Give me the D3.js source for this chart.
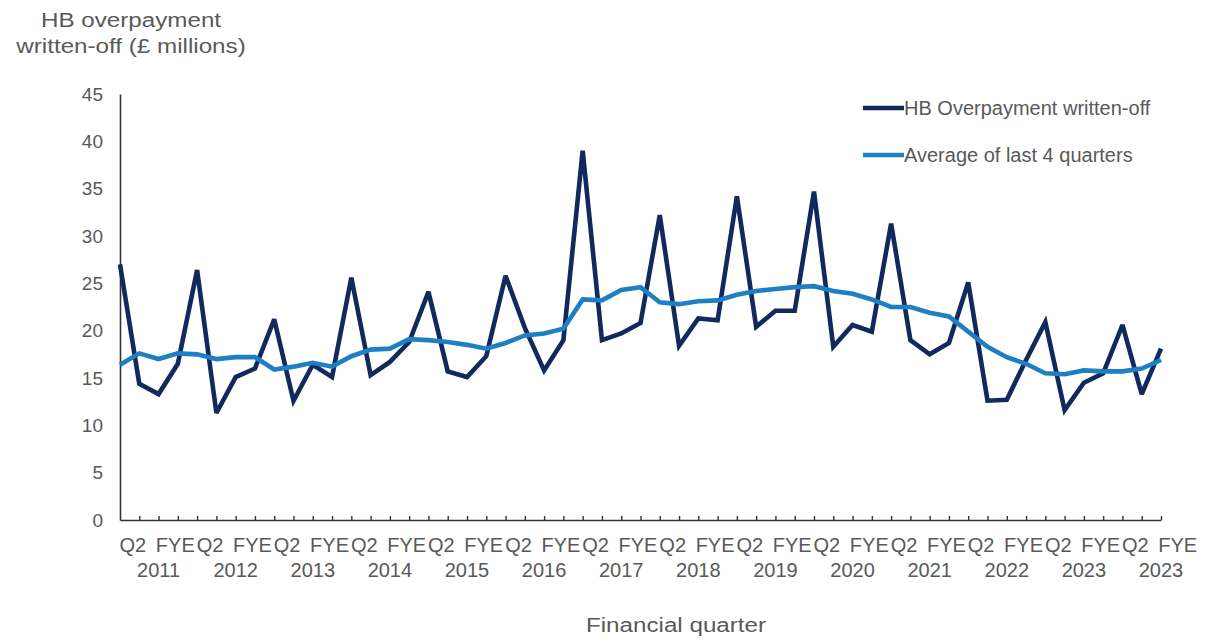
<!DOCTYPE html>
<html>
<head>
<meta charset="utf-8">
<script src="https://cdn.jsdelivr.net/npm/d3@7"></script>
<style>
  html, body { margin: 0; padding: 0; background: #ffffff; }
  svg { display: block; }
  text { font-family: "Liberation Sans", Arial, sans-serif; fill: #595959; }
</style>
</head>
<body>
<svg id="chart" width="1216" height="643"></svg>
<script>
// ---- Data ----
const seriesNames = ["HB Overpayment written-off", "Average of last 4 quarters"];
const writtenOff = [27.0,14.4,13.3,16.5,26.4,11.3,15.1,16.0,21.2,12.6,
                    16.4,15.1,25.6,15.3,16.7,18.8,24.1,15.7,15.1,17.3,
                    25.8,20.3,15.8,19.0,39.0,19.0,19.7,20.8,32.2,18.4,
                    21.3,21.1,34.2,20.4,22.1,22.1,34.7,18.3,20.6,19.9,
                    31.3,19.0,17.5,18.7,25.1,12.6,12.7,16.9,20.9,11.6,
                    14.5,15.5,20.6,13.3,18.1];
const avgLast4 = [16.4,17.6,17.0,17.6,17.5,17.0,17.2,17.2,15.9,16.2,
                  16.6,16.2,17.3,18.0,18.1,19.1,19.0,18.8,18.5,18.1,
                  18.7,19.5,19.7,20.2,23.3,23.2,24.3,24.6,23.0,22.8,
                  23.1,23.2,23.8,24.2,24.4,24.6,24.7,24.2,23.9,23.3,
                  22.5,22.5,21.9,21.5,19.9,18.3,17.2,16.5,15.5,15.4,
                  15.8,15.7,15.7,16.0,16.9];
const yearLabels = ["2011","2012","2013","2014","2015","2016","2017","2018","2019","2020","2021","2022","2023","2023"];
const periodLabels = ["Q2","FYE"];
const yTicks = [0,5,10,15,20,25,30,35,40,45];
const yTitle = ["HB overpayment", "written-off (£ millions)"];
const xTitle = "Financial quarter";

// ---- Layout ----
const colors = ["#11295d", "#1f7fc4"];
const svg = d3.select("#chart");
const n = writtenOff.length;
const x = d3.scaleLinear().domain([0, n - 1]).range([120, 1161]);
const y = d3.scaleLinear().domain([0, 45]).range([520, 94]);

// Y axis
const yAxis = svg.append("g").attr("transform", `translate(${x(0)},0)`)
  .call(d3.axisLeft(y).tickValues(yTicks).tickSize(0).tickPadding(17));
yAxis.select(".domain").attr("stroke", "#333333").attr("stroke-width", 1.6);
yAxis.selectAll("text").attr("font-size", 19).attr("fill", "#595959")
  .style("font-family", "'Liberation Sans', Arial, sans-serif");

// X axis
const xAxis = svg.append("g").attr("transform", `translate(0,${y(0)})`)
  .call(d3.axisBottom(x).tickValues(d3.range(1, n)).tickSize(-4).tickSizeOuter(0).tickFormat(""));
xAxis.select(".domain").attr("stroke", "#333333").attr("stroke-width", 1.6);
xAxis.selectAll(".tick line").attr("stroke", "#333333").attr("stroke-width", 1.4);

// X labels (Q2 / FYE and year)
const labelGroup = svg.append("g").attr("font-size", 20);
yearLabels.forEach((yr, k) => {
  const base = 4 * k + 2;
  labelGroup.append("text").attr("x", x(base - 1.33)).attr("y", 552)
    .attr("text-anchor", "middle").text(periodLabels[0]);
  labelGroup.append("text").attr("x", x(base + 0.87)).attr("y", 552)
    .attr("text-anchor", "middle").text(periodLabels[1]);
  labelGroup.append("text").attr("x", x(base)).attr("y", 577)
    .attr("text-anchor", "middle").text(yr);
});

// Lines
const line = d3.line().x((d, i) => x(i)).y(d => y(d));
[writtenOff, avgLast4].forEach((s, si) => {
  svg.append("path").datum(s)
    .attr("fill", "none")
    .attr("stroke", colors[si])
    .attr("stroke-width", 4.6)
    .attr("stroke-linejoin", "miter")
    .attr("stroke-miterlimit", 3)
    .attr("d", line);
});

// Legend
const legend = svg.append("g");
const legendY = [108, 155];
seriesNames.forEach((name, i) => {
  legend.append("line").attr("x1", 863).attr("x2", 904)
    .attr("y1", legendY[i]).attr("y2", legendY[i])
    .attr("stroke", colors[i]).attr("stroke-width", 4.6);
  legend.append("text").attr("x", 904).attr("y", legendY[i] + 7)
    .attr("font-size", 20).text(name);
});

// Titles (horizontally widened like the reference)
const stretch = 1.21;
const yt = svg.append("text").attr("transform", `translate(131,0) scale(${stretch},1)`)
  .attr("text-anchor", "middle").attr("font-size", 20);
yt.append("tspan").attr("x", 0).attr("y", 27).text(yTitle[0]);
yt.append("tspan").attr("x", 0).attr("y", 53).text(yTitle[1]);

svg.append("text").attr("transform", `translate(676,632) scale(${stretch},1)`)
  .attr("text-anchor", "middle").attr("font-size", 20).text(xTitle);
</script>
</body>
</html>
